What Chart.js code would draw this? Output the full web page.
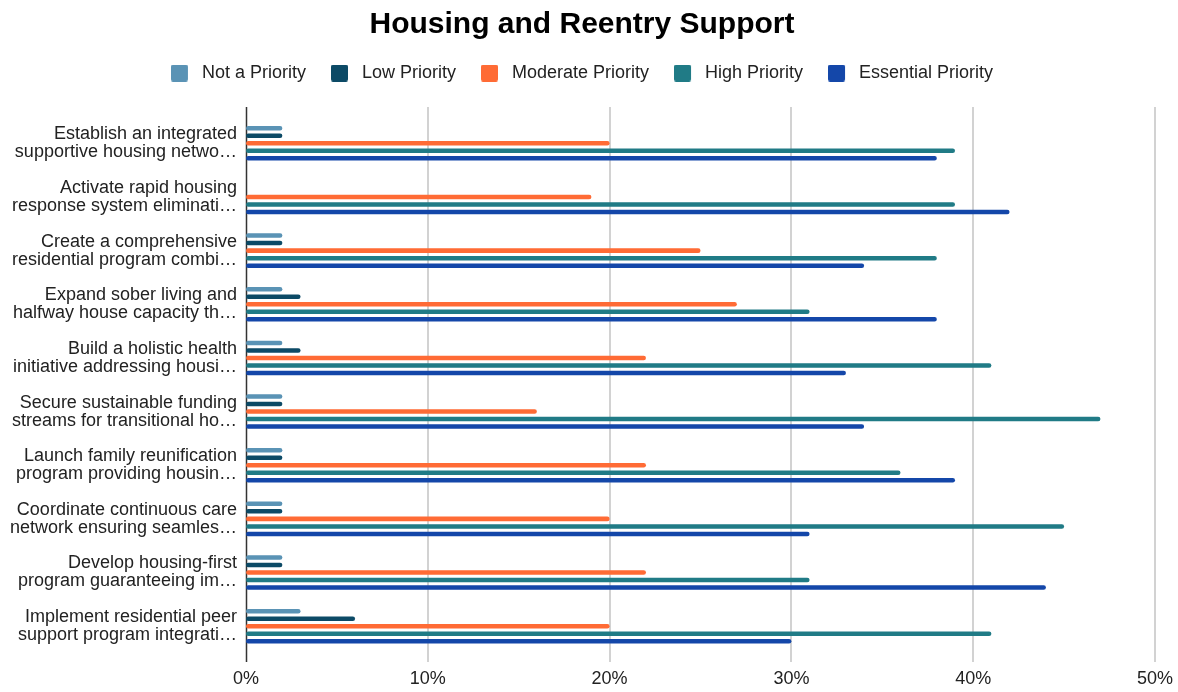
<!DOCTYPE html>
<html lang="en">
<head>
<meta charset="UTF-8">
<meta name="viewport" content="width=device-width, initial-scale=1">
<title>Housing and Reentry Support</title>
<script src="https://cdn.jsdelivr.net/npm/chart.js"></script>
<style>
    html, body {
        margin: 0;
        padding: 0;
        background: #fff;
    }

    .chart-wrap {
        width: 1178px;
        height: 692px;
    }
</style>
</head>
<body>
<div class="chart-wrap">
    <canvas id="reentryChart"></canvas>
</div>

<script>
    const strategies = [
        ['Establish an integrated', 'supportive housing netwo…'],
        ['Activate rapid housing', 'response system eliminati…'],
        ['Create a comprehensive', 'residential program combi…'],
        ['Expand sober living and', 'halfway house capacity th…'],
        ['Build a holistic health', 'initiative addressing housi…'],
        ['Secure sustainable funding', 'streams for transitional ho…'],
        ['Launch family reunification', 'program providing housin…'],
        ['Coordinate continuous care', 'network ensuring seamles…'],
        ['Develop housing-first', 'program guaranteeing im…'],
        ['Implement residential peer', 'support program integrati…']
    ];

    const priorityLevels = ['Not a Priority', 'Low Priority', 'Moderate Priority', 'High Priority', 'Essential Priority'];
    const priorityColors = ['#5a93b5', '#0c4a66', '#ff6b35', '#207b86', '#1447a9'];

    // percent of respondents per strategy
    const notPriority = [2, 0, 2, 2, 2, 2, 2, 2, 2, 3];
    const lowPriority = [2, 0, 2, 3, 3, 2, 2, 2, 2, 6];
    const moderatePriority = [20, 19, 25, 27, 22, 16, 22, 20, 22, 20];
    const highPriority = [39, 39, 38, 31, 41, 47, 36, 45, 31, 41];
    const essentialPriority = [38, 42, 34, 38, 33, 34, 39, 31, 44, 30];

    const xTicks = [0, 10, 20, 30, 40, 50];

    const fontFamily = "'Liberation Sans', Arial, Helvetica, sans-serif";

    // square legend swatch with a little blank space after it
    function legendSwatch(color) {
        const c = document.createElement('canvas');
        c.width = 22;
        c.height = 17;
        const g = c.getContext('2d');
        g.fillStyle = color;
        g.beginPath();
        if (g.roundRect) {
            g.roundRect(0, 0, 17, 17, 2);
        } else {
            g.rect(0, 0, 17, 17);
        }
        g.fill();
        return c;
    }

    // vertical grid lines and the zero axis, running a bit past the bar area
    const gridLines = {
        id: 'gridLines',
        beforeInit(chart) {
            const legend = chart.legend;
            const fit = legend.fit;
            legend.fit = function () {
                fit.call(this);
                this.height += 24.5;
            };
        },
        beforeDatasetsDraw(chart) {
            const { ctx, chartArea, scales: { x } } = chart;
            const top = chartArea.top - 9.5;
            const bottom = chartArea.bottom + 9;
            ctx.save();
            ctx.lineWidth = 2;
            ctx.strokeStyle = '#d2d2d2';
            xTicks.slice(1).forEach(v => {
                const px = Math.round(x.getPixelForValue(v));
                ctx.beginPath();
                ctx.moveTo(px, top);
                ctx.lineTo(px, bottom);
                ctx.stroke();
            });
            const zero = Math.round(x.getPixelForValue(0)) + 0.5;
            ctx.lineWidth = 1.5;
            ctx.strokeStyle = '#333';
            ctx.beginPath();
            ctx.moveTo(zero, top);
            ctx.lineTo(zero, bottom);
            ctx.stroke();
            ctx.restore();
        }
    };

    const series = [notPriority, lowPriority, moderatePriority, highPriority, essentialPriority];

    const datasets = series.map((values, i) => ({
        label: priorityLevels[i],
        data: values,
        backgroundColor: priorityColors[i],
        borderRadius: 3,
        borderSkipped: false,
        categoryPercentage: 0.7,
        barPercentage: 0.6
    }));

    new Chart(document.getElementById('reentryChart'), {
        type: 'bar',
        data: { labels: strategies, datasets: datasets },
        options: {
            indexAxis: 'y',
            responsive: true,
            maintainAspectRatio: false,
            animation: false,
            layout: {
                padding: { top: 0, right: 23, bottom: 3, left: 9 }
            },
            plugins: {
                title: {
                    display: true,
                    text: 'Housing and Reentry Support',
                    color: '#000',
                    font: { family: fontFamily, size: 30, weight: 'bold' },
                    padding: { top: 7, bottom: -4 }
                },
                legend: {
                    position: 'top',
                    labels: {
                        color: '#222',
                        font: { family: fontFamily, size: 18 },
                        usePointStyle: true,
                        pointStyleWidth: 22,
                        boxHeight: 17,
                        padding: 25,
                        generateLabels(chart) {
                            const items = Chart.defaults.plugins.legend.labels.generateLabels(chart);
                            return items.map((item, i) => Object.assign(item, {
                                pointStyle: legendSwatch(priorityColors[i]),
                                lineWidth: 0
                            }));
                        }
                    }
                },
                tooltip: { enabled: false }
            },
            scales: {
                x: {
                    min: 0,
                    max: 50,
                    grid: { display: false, drawTicks: false },
                    border: { display: false },
                    afterFit(scale) {
                        scale.height = 36;
                        scale.paddingLeft = 0;
                        scale.paddingRight = 0;
                    },
                    ticks: {
                        stepSize: 10,
                        padding: 15.5,
                        color: '#222',
                        font: { family: fontFamily, size: 18 },
                        callback: v => v + '%'
                    }
                },
                y: {
                    grid: { display: false, drawTicks: false },
                    border: { display: false },
                    afterFit(scale) {
                        scale.width = 237;
                    },
                    ticks: {
                        autoSkip: false,
                        padding: 9,
                        color: '#222',
                        font: { family: fontFamily, size: 18, lineHeight: 1 }
                    }
                }
            }
        },
        plugins: [gridLines]
    });
</script>
</body>
</html>
